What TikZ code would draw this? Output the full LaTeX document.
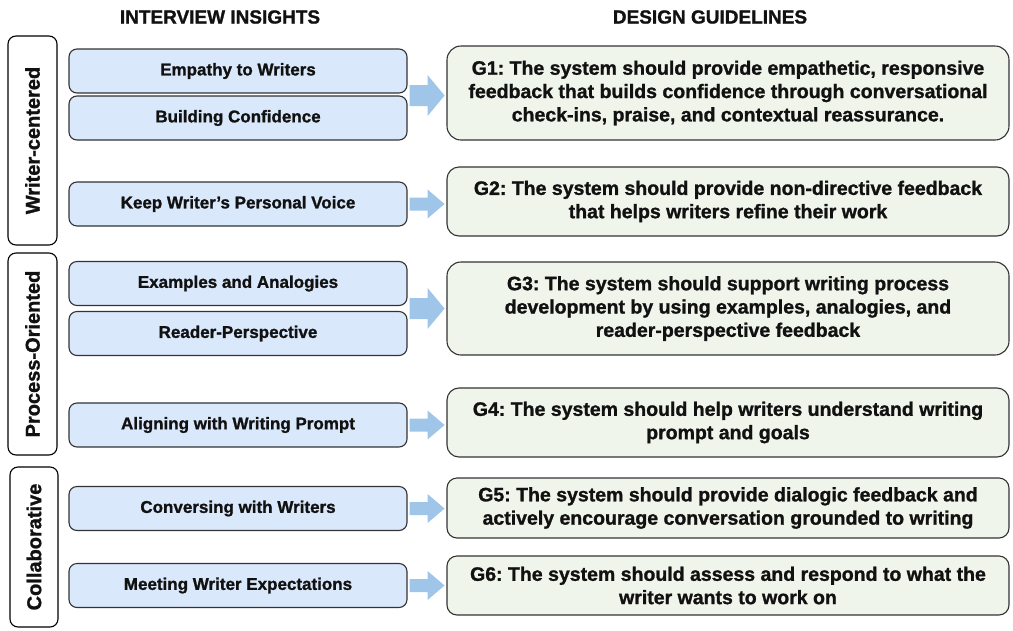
\documentclass[tikz,border=0pt]{standalone}
\usepackage{fontspec}
\setmainfont{Liberation Sans}[BoldFeatures={FakeBold=1.2}]
\usetikzlibrary{calc}
\definecolor{insightfill}{HTML}{DAE8FC}
\definecolor{guidefill}{HTML}{F0F5EC}
\definecolor{arrowfill}{HTML}{9FC5E8}
\definecolor{edgegray}{HTML}{333333}
\definecolor{ink}{HTML}{111111}
\frenchspacing

\begin{document}
\begin{tikzpicture}[x=1pt,y=-1pt,
  header/.style={font=\fontsize{19}{22}\selectfont\bfseries, text=ink, inner sep=0pt},
  category/.style={draw=black, line width=1.1pt, fill=white, rounded corners=8pt,
    rotate=90, inner sep=0pt, minimum height=49pt, text=ink,
    font=\fontsize{20}{24}\selectfont\bfseries},
  insight/.style={draw=edgegray, line width=1.1pt, fill=insightfill, rounded corners=8pt,
    minimum width=338pt, minimum height=44pt, inner sep=0pt, text=ink,
    font=\fontsize{17}{20}\selectfont\bfseries},
  guide/.style={draw=edgegray, line width=1.1pt, fill=guidefill, rounded corners=12pt,
    minimum width=562pt, inner sep=0pt, align=center, text=ink,
    font=\fontsize{19.5}{23.3}\selectfont\bfseries},
  pics/blockarrow/.style 2 args={code={
    \fill[arrowfill] (0,-#1) -- (18,-#1) -- (18,-#2) -- (35,0) -- (18,#2) -- (18,#1)
      -- (0,#1) -- cycle;}}
]
\useasboundingbox (0,0) rectangle (1013,630);

% column headings
\node[header] (hins) at (220,17) {INTERVIEW INSIGHTS};
\node[header] (hgui) at (710,17) {DESIGN GUIDELINES};

% category frames
\node[category, minimum width=209pt] (wc) at (32.5,140.5) {Writer-centered};
\node[category, minimum width=202pt] (po) at (32.5,354) {Process-Oriented};
\node[category, minimum width=160pt, minimum height=48pt] (co) at (34,547) {Collaborative};

% interview insights
\node[insight] (e1) at (238,71)    {Empathy to Writers};
\node[insight] (e2) at (238,118)   {Building Confidence};
\node[insight] (e3) at (238,204)   {Keep Writer’s Personal Voice};
\node[insight] (e4) at (238,283.5) {Examples and Analogies};
\node[insight] (e5) at (238,333.5) {Reader-Perspective};
\node[insight] (e6) at (238,425)   {Aligning with Writing Prompt};
\node[insight] (e7) at (238,508.5) {Conversing with Writers};
\node[insight] (e8) at (238,585.5) {Meeting Writer Expectations};

% design guidelines
\node[guide, minimum height=94pt, rounded corners=14pt] (g1) at (728,93)
  {G1: The system should provide empathetic, responsive\\
   feedback that builds confidence through conversational\\
   check-ins, praise, and contextual reassurance.};
\node[guide, minimum height=69pt] (g2) at (728,201.5)
  {G2: The system should provide non-directive feedback\\
   that helps writers refine their work};
\node[guide, minimum height=93pt, rounded corners=14pt] (g3) at (728,308.5)
  {G3: The system should support writing process\\
   development by using examples, analogies, and\\
   reader-perspective feedback};
\node[guide, minimum height=69pt] (g4) at (728,422.5)
  {G4: The system should help writers understand writing\\
   prompt and goals};
\node[guide, minimum height=60pt, rounded corners=10pt] (g5) at (728,508)
  {G5: The system should provide dialogic feedback and\\
   actively encourage conversation grounded to writing};
\node[guide, minimum height=59pt, rounded corners=10pt] (g6) at (728,585.5)
  {G6: The system should assess and respond to what the\\
   writer wants to work on};

% block arrows from insights to guidelines
\pic at ($(e1.south east)!0.5!(e2.north east)+(2,1)$) {blockarrow={10.5}{20.5}};
\pic at ($(e3.east)+(2,0)$) {blockarrow={6.5}{14.5}};
\pic at ($(e4.south east)!0.5!(e5.north east)+(2,0)$) {blockarrow={10.5}{20.5}};
\pic at ($(e6.east)+(2,0)$) {blockarrow={6.5}{14.5}};
\pic at ($(e7.east)+(2,0)$) {blockarrow={6.5}{14.5}};
\pic at ($(e8.east)+(2,0)$) {blockarrow={6.5}{14.5}};
\end{tikzpicture}
\end{document}
